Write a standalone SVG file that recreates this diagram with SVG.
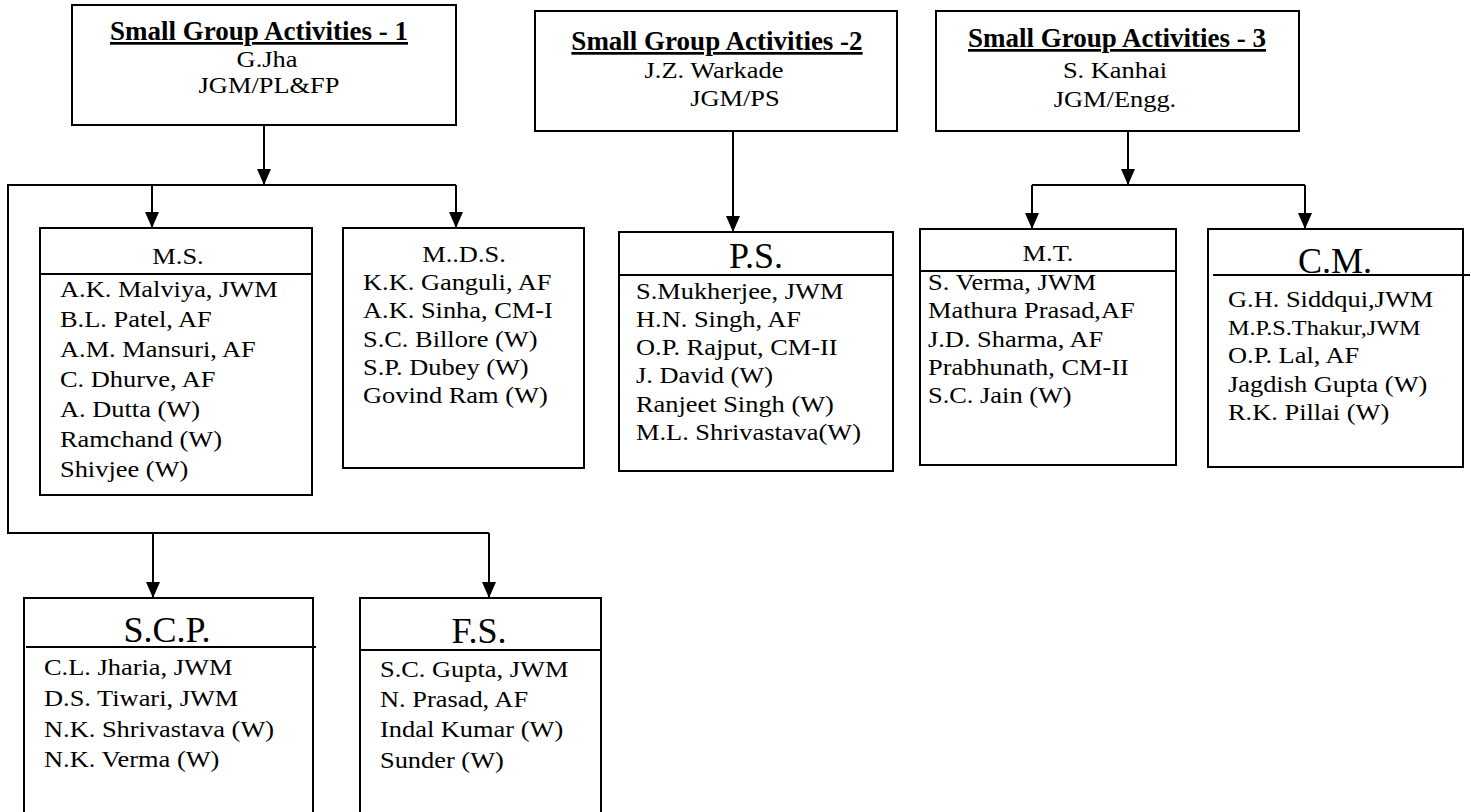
<svg xmlns="http://www.w3.org/2000/svg" width="1471" height="812" viewBox="0 0 1471 812">
<style>
  .box { fill: #ffffff; stroke: #000000; stroke-width: 2; }
  .div { stroke: #000000; stroke-width: 2; fill: none; }
  .con { stroke: #000000; stroke-width: 2; fill: none; }
  .t { font-family: "Liberation Serif", "Times New Roman", serif; font-size: 24px; fill: #000000; transform-box: fill-box; transform-origin: left center; transform: scaleX(1.1); }
  .title { font-family: "Liberation Serif", "Times New Roman", serif; font-size: 27px; font-weight: bold; text-decoration: underline; fill: #000000; }
  .big { font-family: "Liberation Serif", "Times New Roman", serif; font-size: 36px; fill: #000000; }
  .mid { text-anchor: middle; transform-origin: center; }
  .sm { font-size: 22px; }
</style>
<defs>
  <marker id="arr" viewBox="0 0 16 14" refX="16" refY="7" markerWidth="16" markerHeight="14" markerUnits="userSpaceOnUse" orient="auto">
    <path d="M0,0 L16,7 L0,14 z" fill="#000000"/>
  </marker>
</defs>

<g id="connectors">
  <path class="con" d="M264,125 V185" marker-end="url(#arr)"/>
  <path class="con" d="M8,185 H456"/>
  <path class="con" d="M152,185 V228" marker-end="url(#arr)"/>
  <path class="con" d="M456,185 V228" marker-end="url(#arr)"/>
  <path class="con" d="M8,184 V533 H489"/>
  <path class="con" d="M153,533 V598" marker-end="url(#arr)"/>
  <path class="con" d="M489,533 V598" marker-end="url(#arr)"/>
  <path class="con" d="M733,131 V232" marker-end="url(#arr)"/>
  <path class="con" d="M1128,131 V185" marker-end="url(#arr)"/>
  <path class="con" d="M1032,185 H1305"/>
  <path class="con" d="M1032,185 V229" marker-end="url(#arr)"/>
  <path class="con" d="M1305,185 V229" marker-end="url(#arr)"/>
</g>

<g id="sga1">
  <rect class="box" x="72" y="5" width="384" height="120"/>
  <text class="title mid" x="259" y="40">Small Group Activities - 1</text>
  <text class="t mid" x="267" y="67">G.Jha</text>
  <text class="t mid" x="269" y="93">JGM/PL&amp;FP</text>
</g>

<g id="sga2">
  <rect class="box" x="535" y="11" width="362" height="120"/>
  <text class="title mid" x="717" y="50">Small Group Activities -2</text>
  <text class="t mid" x="714" y="78">J.Z. Warkade</text>
  <text class="t mid" x="735" y="106">JGM/PS</text>
</g>

<g id="sga3">
  <rect class="box" x="936" y="11" width="363" height="120"/>
  <text class="title mid" x="1117" y="47">Small Group Activities - 3</text>
  <text class="t mid" x="1115" y="78">S. Kanhai</text>
  <text class="t mid" x="1115" y="107">JGM/Engg.</text>
</g>

<g id="ms">
  <rect class="box" x="40" y="228" width="272" height="267"/>
  <line class="div" x1="40" y1="274" x2="312" y2="274"/>
  <text class="t mid" x="178" y="264">M.S.</text>
  <text class="t" x="60" y="297">A.K. Malviya, JWM</text>
  <text class="t" x="60" y="327">B.L. Patel, AF</text>
  <text class="t" x="60" y="357">A.M. Mansuri, AF</text>
  <text class="t" x="60" y="387">C. Dhurve, AF</text>
  <text class="t" x="60" y="417">A. Dutta (W)</text>
  <text class="t" x="60" y="447">Ramchand (W)</text>
  <text class="t" x="60" y="477">Shivjee (W)</text>
</g>

<g id="mds">
  <rect class="box" x="343" y="228" width="241" height="240"/>
  <text class="t mid" x="464" y="262">M..D.S.</text>
  <text class="t" x="363" y="290">K.K. Ganguli, AF</text>
  <text class="t" x="363" y="318">A.K. Sinha, CM-I</text>
  <text class="t" x="363" y="347">S.C. Billore (W)</text>
  <text class="t" x="363" y="375">S.P. Dubey (W)</text>
  <text class="t" x="363" y="403">Govind Ram (W)</text>
</g>

<g id="ps">
  <rect class="box" x="619" y="232" width="274" height="239"/>
  <line class="div" x1="619" y1="275" x2="893" y2="275"/>
  <text class="big mid" x="756" y="268">P.S.</text>
  <text class="t" x="636" y="299">S.Mukherjee, JWM</text>
  <text class="t" x="636" y="327">H.N. Singh, AF</text>
  <text class="t" x="636" y="355">O.P. Rajput, CM-II</text>
  <text class="t" x="636" y="383">J. David (W)</text>
  <text class="t" x="636" y="412">Ranjeet Singh (W)</text>
  <text class="t" x="636" y="440">M.L. Shrivastava(W)</text>
</g>

<g id="mt">
  <rect class="box" x="920" y="229" width="256" height="236"/>
  <line class="div" x1="920" y1="271" x2="1176" y2="271"/>
  <text class="t mid" x="1048" y="261">M.T.</text>
  <text class="t" x="928" y="290">S. Verma, JWM</text>
  <text class="t" x="928" y="318">Mathura Prasad,AF</text>
  <text class="t" x="928" y="347">J.D. Sharma, AF</text>
  <text class="t" x="928" y="375">Prabhunath, CM-II</text>
  <text class="t" x="928" y="403">S.C. Jain (W)</text>
</g>

<g id="cm">
  <rect class="box" x="1208" y="229" width="255" height="238"/>
  <line class="div" x1="1213" y1="275" x2="1470" y2="275"/>
  <text class="big mid" x="1335" y="273">C.M.</text>
  <text class="t" x="1228" y="307">G.H. Siddqui,JWM</text>
  <text class="t sm" x="1228" y="335">M.P.S.Thakur,JWM</text>
  <text class="t" x="1228" y="363">O.P. Lal, AF</text>
  <text class="t" x="1228" y="392">Jagdish Gupta (W)</text>
  <text class="t" x="1228" y="420">R.K. Pillai (W)</text>
</g>

<g id="scp">
  <rect class="box" x="24" y="598" width="289" height="230"/>
  <line class="div" x1="26" y1="647" x2="316" y2="647"/>
  <text class="big mid" x="167" y="642">S.C.P.</text>
  <text class="t" x="44" y="675">C.L. Jharia, JWM</text>
  <text class="t" x="44" y="706">D.S. Tiwari, JWM</text>
  <text class="t" x="44" y="737">N.K. Shrivastava (W)</text>
  <text class="t" x="44" y="767">N.K. Verma (W)</text>
</g>

<g id="fs">
  <rect class="box" x="360" y="598" width="241" height="230"/>
  <line class="div" x1="360" y1="650" x2="601" y2="650"/>
  <text class="big mid" x="479" y="643">F.S.</text>
  <text class="t" x="380" y="677">S.C. Gupta, JWM</text>
  <text class="t" x="380" y="707">N. Prasad, AF</text>
  <text class="t" x="380" y="737">Indal Kumar (W)</text>
  <text class="t" x="380" y="768">Sunder (W)</text>
</g>
</svg>
